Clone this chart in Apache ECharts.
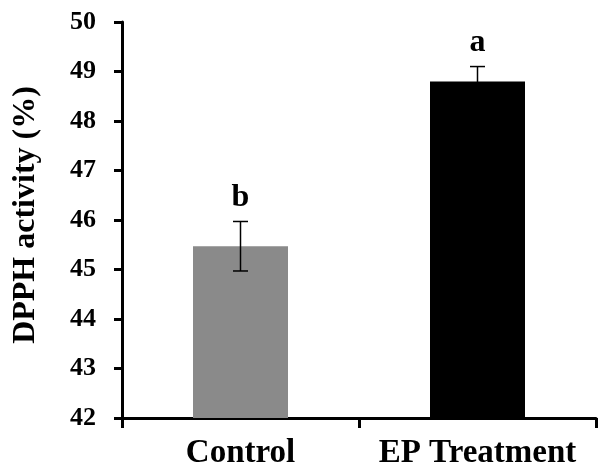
<!DOCTYPE html>
<html>
<head>
<meta charset="utf-8">
<script src="https://cdn.jsdelivr.net/npm/echarts@6/dist/echarts.min.js"></script>
<style>html,body{margin:0;padding:0;background:#fff}#c{width:598px;height:470px}</style>
</head>
<body>
<div id="c"></div>
<script>
var categories = ['Control', 'EP Treatment'];
var means = [45.47, 48.8];
var errors = [0.5, 0.3];
var letters = ['b', 'a'];
var barColors = ['#8a8a8a', '#000000'];
var yTicks = [42, 43, 44, 45, 46, 47, 48, 49, 50];

var FONT = '"Liberation Serif", "Times New Roman", serif';
var chart = echarts.init(document.getElementById('c'));
chart.setOption({
  animation: false,
  grid: { left: 122, right: 2, top: 22, bottom: 52 },
  xAxis: {
    type: 'category',
    data: categories,
    boundaryGap: true,
    axisLine: { lineStyle: { color: '#000', width: 3 } },
    axisTick: { show: true, length: 10, lineStyle: { color: '#000', width: 3 } },
    axisLabel: { interval: 0, hideOverlap: false, color: '#000', fontFamily: FONT, fontWeight: 'bold', fontSize: 33, margin: 19 }
  },
  yAxis: {
    type: 'value',
    min: yTicks[0],
    max: yTicks[yTicks.length - 1],
    interval: 1,
    name: 'DPPH activity (%)',
    nameLocation: 'middle',
    nameGap: 80,
    nameTextStyle: { color: '#000', fontFamily: FONT, fontWeight: 'bold', fontSize: 32, padding: [0, 0, 0, 10] },
    axisLine: { show: true, lineStyle: { color: '#000', width: 3 } },
    axisTick: { show: true, length: 8, lineStyle: { color: '#000', width: 3 } },
    splitLine: { show: false },
    axisLabel: { color: '#000', fontFamily: FONT, fontWeight: 'bold', fontSize: 26, margin: 26 }
  },
  series: [
    {
      type: 'bar',
      barWidth: 95,
      data: means.map(function (v, i) { return { value: v, itemStyle: { color: barColors[i] } }; }),
      z: 2
    },
    {
      type: 'custom',
      z: 5,
      data: means.map(function (v, i) { return [i, v - errors[i], v + errors[i], i]; }),
      renderItem: function (params, api) {
        var i = api.value(0);
        var lo = api.coord([i, api.value(1)]);
        var hi = api.coord([i, api.value(2)]);
        var hw = 7.5;
        return {
          type: 'group',
          children: [
            { type: 'line', shape: { x1: hi[0], y1: hi[1], x2: lo[0], y2: lo[1] }, style: { stroke: '#000', lineWidth: 1.5 } },
            { type: 'line', shape: { x1: hi[0] - hw, y1: hi[1], x2: hi[0] + hw, y2: hi[1] }, style: { stroke: '#000', lineWidth: 1.5 } },
            { type: 'line', shape: { x1: lo[0] - hw, y1: lo[1], x2: lo[0] + hw, y2: lo[1] }, style: { stroke: '#000', lineWidth: 1.5 } },
            { type: 'text', x: hi[0], y: hi[1] - 8, style: { text: letters[api.value(3)], fill: '#000', font: 'bold 32px ' + FONT, textAlign: 'center', textVerticalAlign: 'bottom' } }
          ]
        };
      }
    }
  ]
});
</script>
</body>
</html>
